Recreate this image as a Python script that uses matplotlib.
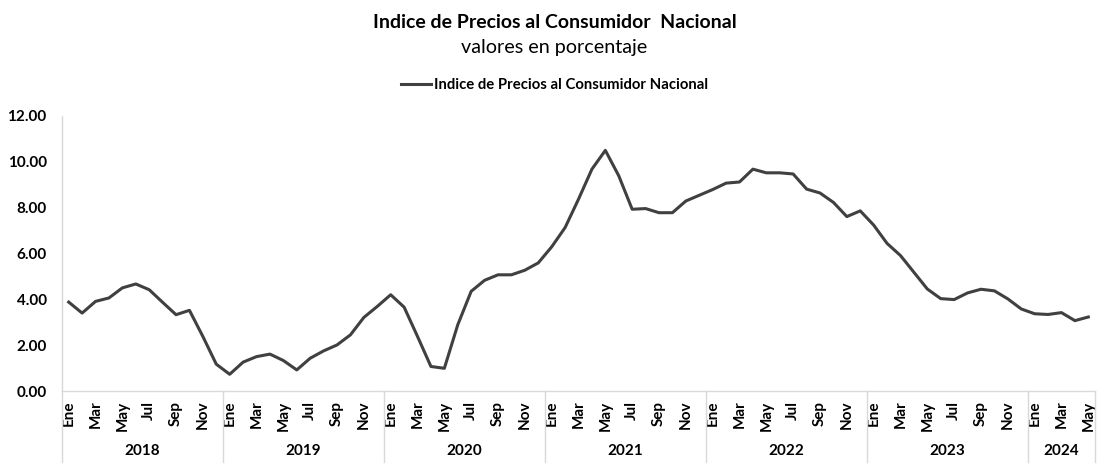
import numpy as np
import matplotlib
matplotlib.use('Agg')
import matplotlib.pyplot as plt
import matplotlib.transforms as mtransforms

plt.rcParams['font.family'] = ['Lato', 'DejaVu Sans']

# Monthly values, Ene 2018 - May 2024
years = ['2018', '2019', '2020', '2021', '2022', '2023', '2024']
months = ['Ene', 'Feb', 'Mar', 'Abr', 'May', 'Jun', 'Jul', 'Ago', 'Sep', 'Oct', 'Nov', 'Dic']
ipc = [3.88, 3.40, 3.91, 4.06, 4.50, 4.67, 4.42, 3.87, 3.33, 3.52, 2.38, 1.17,
       0.73, 1.26, 1.50, 1.61, 1.33, 0.92, 1.43, 1.75, 2.01, 2.45, 3.21, 3.69,
       4.20, 3.66, 2.38, 1.07, 0.99, 2.89, 4.35, 4.83, 5.07, 5.07, 5.27, 5.59,
       6.29, 7.13, 8.37, 9.68, 10.50, 9.39, 7.93, 7.96, 7.78, 7.78, 8.29, 8.54,
       8.79, 9.07, 9.12, 9.68, 9.52, 9.52, 9.47, 8.81, 8.64, 8.23, 7.61, 7.86,
       7.24, 6.44, 5.91, 5.18, 4.45, 4.03, 3.99, 4.28, 4.44, 4.37, 4.02, 3.58,
       3.37, 3.34, 3.42, 3.07, 3.23]

n = len(ipc)
x = np.arange(n)
month_lbl = [months[i % 12] for i in range(n)]

fig = plt.figure(figsize=(11.09, 4.69), dpi=100)
ax = fig.add_axes([0.0559, 0.1663, 0.9315, 0.5864])

ax.plot(x, ipc, color='#404040', linewidth=2.2,
        label='Indice de Precios al Consumidor Nacional')

ax.set_xlim(-0.5, n - 0.5)
ax.set_ylim(0, 12)
ax.set_yticks(np.arange(0, 13, 2))
ax.set_yticklabels(['%.2f' % v for v in np.arange(0, 13, 2)], fontweight='bold', fontsize=11)
ax.tick_params(axis='y', length=0, pad=11)

# label every other month
ax.set_xticks(x[::2])
ax.set_xticklabels(month_lbl[::2], rotation=90, fontweight='bold', fontsize=11)
ax.tick_params(axis='x', length=0, pad=7)

for s in ['top', 'right']:
    ax.spines[s].set_visible(False)
for s in ['left', 'bottom']:
    ax.spines[s].set_color('#d9d9d9')
    ax.spines[s].set_linewidth(1)

# year groups below the month labels
trans = mtransforms.blended_transform_factory(ax.transData, ax.transAxes)
edges = list(range(0, n, 12)) + [n]
for e in edges:
    ax.plot([e - 0.5, e - 0.5], [0, -0.258], transform=trans, color='#d9d9d9',
            linewidth=1, clip_on=False)
for i, yr in enumerate(years):
    lo = edges[i] - 0.5
    hi = edges[i + 1] - 0.5
    ax.text((lo + hi) / 2, -0.218, yr, transform=trans, ha='center', va='center',
            fontweight='bold', fontsize=11)

fig.text(0.5, 0.953, 'Indice de Precios al Consumidor  Nacional', ha='center', va='center',
         fontweight='bold', fontsize=14)
fig.text(0.5, 0.898, 'valores en porcentaje', ha='center', va='center', fontsize=14.2)
fig.legend(loc='center', bbox_to_anchor=(0.5, 0.819), frameon=False, handlelength=2.0,
           handletextpad=0.2, prop={'weight': 'bold', 'size': 10.7})

fig.savefig('out.png', dpi=100)
